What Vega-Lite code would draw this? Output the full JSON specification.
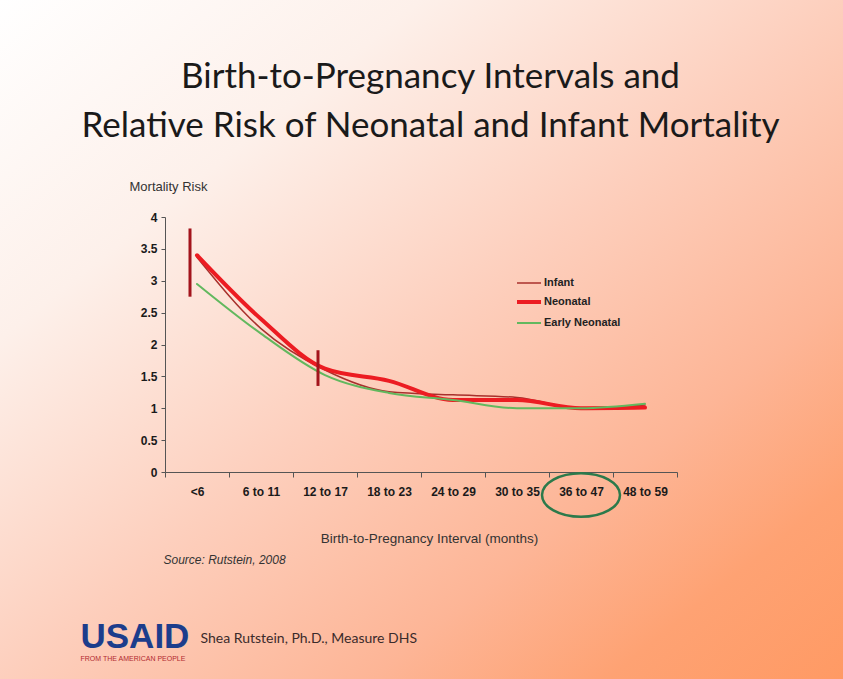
{
  "$schema": "https://vega.github.io/schema/vega-lite/v6.json",
  "width": 843,
  "height": 679,
  "autosize": {"type": "none"},
  "padding": 0,
  "background": "#fdd0be",
  "view": {
    "stroke": null,
    "fill": {
      "gradient": "linear",
      "x1": 0, "y1": 0, "x2": 1, "y2": 1,
      "stops": [
        {"offset": 0, "color": "#ffffff"},
        {"offset": 0.25, "color": "#fdf0ea"},
        {"offset": 0.5, "color": "#fdcfbd"},
        {"offset": 0.72, "color": "#fdb596"},
        {"offset": 0.86, "color": "#fea273"},
        {"offset": 1, "color": "#ff9a64"}
      ]
    }
  },
  "title": {
    "text": ["Birth-to-Pregnancy Intervals and", "Relative Risk of Neonatal and Infant Mortality"],
    "font": "Lato",
    "fontSize": 35,
    "fontWeight": "normal",
    "color": "#1a1a1a",
    "anchor": "middle",
    "frame": "group",
    "orient": "top",
    "offset": -172,
    "baseline": "alphabetic",
    "lineHeight": 49,
    "dx": 9
  },
  "datasets": {
    "risk": [
      {"interval": "<6", "series": "Infant", "risk": 3.37},
      {"interval": "6 to 11", "series": "Infant", "risk": 2.25},
      {"interval": "12 to 17", "series": "Infant", "risk": 1.6},
      {"interval": "18 to 23", "series": "Infant", "risk": 1.26},
      {"interval": "24 to 29", "series": "Infant", "risk": 1.21},
      {"interval": "30 to 35", "series": "Infant", "risk": 1.17},
      {"interval": "36 to 47", "series": "Infant", "risk": 1.0},
      {"interval": "48 to 59", "series": "Infant", "risk": 1.05},
      {"interval": "<6", "series": "Neonatal", "risk": 3.4},
      {"interval": "6 to 11", "series": "Neonatal", "risk": 2.4},
      {"interval": "12 to 17", "series": "Neonatal", "risk": 1.62},
      {"interval": "18 to 23", "series": "Neonatal", "risk": 1.43},
      {"interval": "24 to 29", "series": "Neonatal", "risk": 1.13},
      {"interval": "30 to 35", "series": "Neonatal", "risk": 1.13},
      {"interval": "36 to 47", "series": "Neonatal", "risk": 1.0},
      {"interval": "48 to 59", "series": "Neonatal", "risk": 1.01},
      {"interval": "<6", "series": "Early Neonatal", "risk": 2.95},
      {"interval": "6 to 11", "series": "Early Neonatal", "risk": 2.17},
      {"interval": "12 to 17", "series": "Early Neonatal", "risk": 1.52},
      {"interval": "18 to 23", "series": "Early Neonatal", "risk": 1.24},
      {"interval": "24 to 29", "series": "Early Neonatal", "risk": 1.13},
      {"interval": "30 to 35", "series": "Early Neonatal", "risk": 1.0},
      {"interval": "36 to 47", "series": "Early Neonatal", "risk": 1.0},
      {"interval": "48 to 59", "series": "Early Neonatal", "risk": 1.07}
    ],
    "ci": [
      {"interval": "<6", "lo": 2.75, "hi": 3.82},
      {"interval": "12 to 17", "lo": 1.35, "hi": 1.91}
    ],
    "ref": [
      {"interval": "36 to 47"}
    ]
  },
  "resolve": {"axis": {"x": "independent", "y": "independent"}},
  "layer": [
    {
      "data": {"name": "risk"},
      "mark": {"type": "line", "interpolate": "monotone", "strokeCap": "round"},
      "encoding": {
        "x": {
          "field": "interval",
          "type": "ordinal",
          "scale": {"type": "band", "domain": ["<6", "6 to 11", "12 to 17", "18 to 23", "24 to 29", "30 to 35", "36 to 47", "48 to 59"], "range": [165, 677], "paddingInner": 0, "paddingOuter": 0},
          "axis": {
            "orient": "bottom", "offset": -207, "grid": false,
            "tickBand": "extent", "labelAngle": 0,
            "labelFont": "Liberation Sans", "labelFontWeight": "bold", "labelFontSize": 12, "labelColor": "#1a1a1a",
            "labelPadding": 9, "tickSize": 5, "tickColor": "#555555", "domainColor": "#555555",
            "title": "Birth-to-Pregnancy Interval (months)",
            "titleFont": "Liberation Sans", "titleFontWeight": "normal", "titleFontSize": 13.5, "titleColor": "#333333",
            "titleX": 429, "titleY": 66, "titleAlign": "center", "titleBaseline": "middle"
          }
        },
        "y": {
          "field": "risk",
          "type": "quantitative",
          "scale": {"domain": [0, 4], "range": [472, 217], "nice": false},
          "axis": {
            "orient": "left", "offset": -165, "grid": false,
            "values": [0, 0.5, 1, 1.5, 2, 2.5, 3, 3.5, 4], "format": "~g",
            "labelFont": "Liberation Sans", "labelFontWeight": "bold", "labelFontSize": 12, "labelColor": "#1a1a1a",
            "labelPadding": 4, "tickSize": 4, "tickColor": "#555555", "domainColor": "#555555",
            "title": "Mortality Risk",
            "titleFont": "Liberation Sans", "titleFontWeight": "normal", "titleFontSize": 13, "titleColor": "#333333",
            "titleAngle": 0, "titleX": 3, "titleY": 186, "titleAlign": "center", "titleBaseline": "middle"
          }
        },
        "color": {
          "field": "series",
          "type": "nominal",
          "scale": {"domain": ["Infant", "Neonatal", "Early Neonatal"], "range": ["#a8302c", "#ec1c22", "#62b85e"]},
          "legend": {
            "orient": "none", "legendX": 515, "legendY": 270, "title": null,
            "symbolType": "stroke", "symbolSize": 576,
            "labelFont": "Liberation Sans", "labelFontWeight": "bold", "labelFontSize": 11, "labelColor": "#222222",
            "labelOffset": 1, "rowPadding": -4, "padding": 0
          }
        },
        "strokeWidth": {
          "field": "series",
          "type": "nominal",
          "scale": {"type": "ordinal", "domain": ["Infant", "Neonatal", "Early Neonatal"], "range": [1.5, 4, 2]},
          "legend": {
            "orient": "none", "legendX": 515, "legendY": 270, "title": null,
            "symbolType": "stroke", "symbolSize": 576,
            "labelFont": "Liberation Sans", "labelFontWeight": "bold", "labelFontSize": 11, "labelColor": "#222222",
            "labelOffset": 1, "rowPadding": -4, "padding": 0
          }
        }
      }
    },
    {
      "data": {"name": "ci"},
      "mark": {"type": "rule", "color": "#a3141c", "strokeWidth": 3, "xOffset": -7},
      "encoding": {
        "x": {
          "field": "interval",
          "type": "ordinal",
          "scale": {"type": "band", "domain": ["<6", "6 to 11", "12 to 17", "18 to 23", "24 to 29", "30 to 35", "36 to 47", "48 to 59"], "range": [165, 677], "paddingInner": 0, "paddingOuter": 0},
          "axis": {
            "orient": "bottom", "offset": -207, "grid": false, "labels": false, "ticks": false, "domain": false,
            "title": "Source: Rutstein, 2008",
            "titleFont": "Liberation Sans", "titleFontStyle": "italic", "titleFontWeight": "normal", "titleFontSize": 12, "titleColor": "#333333",
            "titleX": 163, "titleY": 87, "titleAlign": "left", "titleBaseline": "middle"
          }
        },
        "y": {
          "field": "lo",
          "type": "quantitative",
          "scale": {"domain": [0, 4], "range": [472, 217], "nice": false},
          "axis": {
            "orient": "left", "offset": -165, "grid": false, "labels": false, "ticks": false, "domain": false,
            "title": "USAID",
            "titleFont": "Liberation Sans", "titleFontWeight": "bold", "titleFontSize": 35, "titleColor": "#1c3d8c",
            "titleAngle": 0, "titleX": -85, "titleY": 636, "titleAlign": "left", "titleBaseline": "middle"
          }
        },
        "y2": {"field": "hi"}
      }
    },
    {
      "data": {"name": "ref"},
      "mark": {
        "type": "point",
        "shape": "M -1 0 A 1 0.56 0 1 0 1 0 A 1 0.56 0 1 0 -1 0 Z",
        "filled": false, "stroke": "#2c7a4b", "strokeWidth": 2.5, "size": 6084, "yOffset": 23, "opacity": 1
      },
      "encoding": {
        "x": {
          "field": "interval",
          "type": "ordinal",
          "scale": {"type": "band", "domain": ["<6", "6 to 11", "12 to 17", "18 to 23", "24 to 29", "30 to 35", "36 to 47", "48 to 59"], "range": [165, 677], "paddingInner": 0, "paddingOuter": 0},
          "axis": {
            "orient": "bottom", "offset": -207, "grid": false, "labels": false, "ticks": false, "domain": false,
            "title": "Shea Rutstein, Ph.D., Measure DHS",
            "titleFont": "Lato", "titleFontWeight": "normal", "titleFontSize": 14, "titleColor": "#3b2b2b",
            "titleX": 200, "titleY": 166, "titleAlign": "left", "titleBaseline": "middle"
          }
        },
        "y": {
          "datum": 0,
          "type": "quantitative",
          "scale": {"domain": [0, 4], "range": [472, 217], "nice": false},
          "axis": {
            "orient": "left", "offset": -165, "grid": false, "labels": false, "ticks": false, "domain": false,
            "title": "FROM THE AMERICAN PEOPLE",
            "titleFont": "Liberation Sans", "titleFontWeight": "normal", "titleFontSize": 7, "titleColor": "#b22a30",
            "titleAngle": 0, "titleX": -85, "titleY": 658, "titleAlign": "left", "titleBaseline": "middle"
          }
        }
      }
    }
  ]
}
